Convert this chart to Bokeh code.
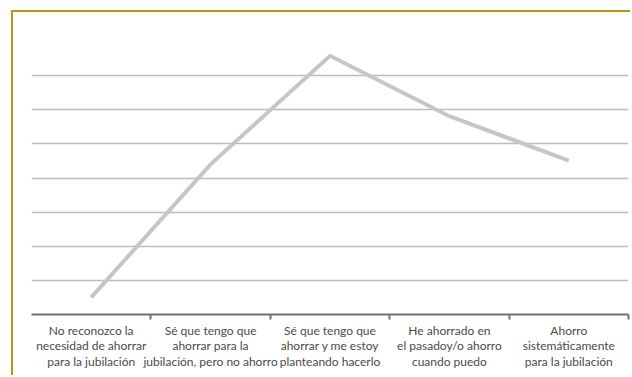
from bokeh.plotting import figure
from bokeh.models import FixedTicker, Range1d
from bokeh.embed import file_html
from bokeh.resources import INLINE

categories = [
    "No reconozco la\nnecesidad de ahorrar\npara la jubilación",
    "Sé que tengo que\nahorrar para la\njubilación, pero no ahorro",
    "Sé que tengo que\nahorrar y me estoy\nplanteando hacerlo",
    "He ahorrado en\nel pasadoy/o ahorro\ncuando puedo",
    "Ahorro\nsistemáticamente\npara la jubilación",
]
values = [0.5, 4.4, 7.58, 5.81, 4.51]
grid_levels = [0, 1, 2, 3, 4, 5, 6, 7, 8]

xs = [i + 0.5 for i in range(len(categories))]
boundaries = [i + 1 for i in range(len(categories))]

p = figure(width=619, height=365, output_backend="svg", toolbar_location=None,
           x_range=Range1d(0, len(categories)), y_range=Range1d(0, 8),
           min_border_left=18, min_border_right=4, min_border_top=29,
           min_border_bottom=63)
p.margin = (10, 0, 0, 11)
p.styles = {"border-top": "2px solid #b5980f", "border-left": "2px solid #b5980f"}
p.outline_line_color = None
p.background_fill_color = "white"
p.border_fill_color = "white"

p.line(xs, values, line_color="#c6c6c6", line_width=4, line_join="miter")

p.yaxis.visible = False
p.xgrid.visible = False
p.ygrid.ticker = FixedTicker(ticks=grid_levels)
p.ygrid.grid_line_color = "#bcbcbc"
p.ygrid.grid_line_width = 1.5

ax = p.xaxis[0]
ax.ticker = FixedTicker(ticks=xs, minor_ticks=boundaries)
ax.major_label_overrides = {x: c for x, c in zip(xs, categories)}
ax.axis_line_color = "#707070"
ax.axis_line_width = 2
ax.major_tick_out = 0
ax.major_tick_in = 0
ax.minor_tick_out = 5
ax.minor_tick_in = 0
ax.minor_tick_line_color = "#707070"
ax.minor_tick_line_width = 2
ax.major_label_standoff = 3
ax.major_label_text_font = "Lato"
ax.major_label_text_font_size = "12px"
ax.major_label_text_color = "#4a4a4a"
ax.major_label_text_line_height = 1.05

open("out.html", "w").write(file_html(p, INLINE))
